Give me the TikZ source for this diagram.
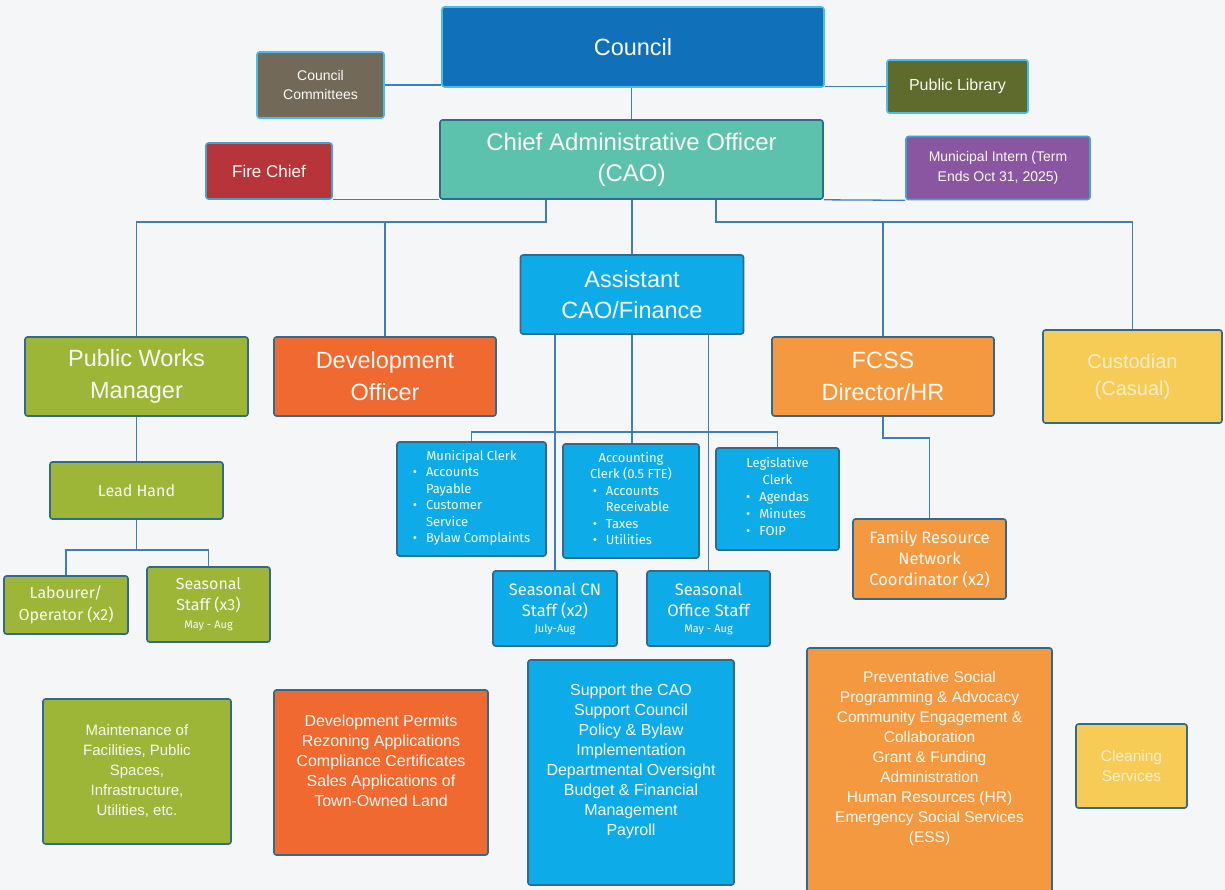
\documentclass[tikz,border=0pt]{standalone}
\usepackage{fontspec}
\setmainfont{Liberation Sans}
\newfontfamily\firafont{Fira Sans}
\usetikzlibrary{backgrounds}

\definecolor{bgcol}{HTML}{F5F6F7}
\definecolor{wirecol}{HTML}{3F7EBD}
\definecolor{edgedark}{HTML}{33688F}
\definecolor{edgelight}{HTML}{48BDE8}
\definecolor{boxtext}{HTML}{FAFAF4}
\definecolor{paletext}{HTML}{FBEFC8}
\definecolor{councilcol}{HTML}{1170BA}
\definecolor{committeecol}{HTML}{726959}
\definecolor{librarycol}{HTML}{5E6B2D}
\definecolor{caocol}{HTML}{5CC2AE}
\definecolor{firecol}{HTML}{B7343B}
\definecolor{interncol}{HTML}{8A56A1}
\definecolor{bluecol}{HTML}{0DACE9}
\definecolor{greencol}{HTML}{9DB637}
\definecolor{devcol}{HTML}{EF6930}
\definecolor{fcsscol}{HTML}{F4993F}
\definecolor{yellowcol}{HTML}{F6CC57}

\newcommand\fsz[2]{\fontsize{#1}{#2}\selectfont}
\newcommand\bul{\textbullet}

\tikzset{
  box/.style={rectangle, rounded corners=2.5pt, draw=edgedark, line width=1.6pt,
    text=boxtext, align=center, inner sep=2pt},
  wire/.style={draw=wirecol, line width=1.3pt},
  desc/.style={text=boxtext, align=center, font=\fsz{16}{20}},
}

\begin{document}
\begin{tikzpicture}[x=1pt,y=-1pt]
    \useasboundingbox (0,0) rectangle (1225,890);
    % council level
    \node[box, draw=edgelight, fill=councilcol, minimum width=382pt, minimum height=80pt, font=\fsz{23.5}{31}] (council) at (633,47) {Council};
    \node[box, draw=edgelight, fill=committeecol, minimum width=127pt, minimum height=66pt, font=\fsz{14}{18}] (committees) at (320.5,85) {Council\\Committees};
    \node[box, draw=edgelight, fill=librarycol, minimum width=141pt, minimum height=53pt, font=\fsz{16}{20}] (library) at (957.5,86.5) {Public Library};
    % CAO level
    \node[box, fill=caocol, minimum width=383pt, minimum height=79pt, font=\fsz{24}{31}] (cao) at (631.5,159.5) {Chief Administrative Officer\\(CAO)};
    \node[box, draw=edgelight!70!edgedark, fill=firecol, minimum width=126pt, minimum height=56pt, font=\fsz{17}{20}] (fire) at (269,171) {Fire Chief};
    \node[box, draw=edgelight!70!edgedark, fill=interncol, minimum width=184pt, minimum height=63pt, font=\fsz{14}{20}] (intern) at (998,168) {Municipal Intern (Term\\Ends Oct 31, 2025)};
    % managers
    \node[box, fill=bluecol, minimum width=223pt, minimum height=79pt, font=\fsz{23.5}{31}] (acao) at (632,294.5) {Assistant\\CAO/Finance};
    \node[box, fill=greencol, minimum width=223pt, minimum height=79pt, font=\fsz{23.5}{32}] (pwm) at (136.5,376.5) {Public Works\\Manager};
    \node[box, fill=devcol, minimum width=222pt, minimum height=79pt, font=\fsz{23.5}{32}] (devo) at (385,376.5) {Development\\Officer};
    \node[box, fill=fcsscol, minimum width=222pt, minimum height=79pt, font=\fsz{23.5}{32}] (fcss) at (883,376.5) {FCSS\\Director/HR};
    \node[box, fill=yellowcol, text=paletext, minimum width=179pt, minimum height=93pt, font=\fsz{20}{27}] (cust) at (1132.5,376.5) {Custodian\\(Casual)};
    % public works staff
    \node[box, fill=greencol, minimum width=173pt, minimum height=57pt, font=\firafont\fsz{16}{21}] (lead) at (136.5,490.5) {Lead Hand};
    \node[box, fill=greencol, minimum width=124pt, minimum height=58pt, font=\firafont\fsz{16}{22}] (labour) at (66,605) {Labourer/\\Operator (x2)};
    \node[box, fill=greencol, minimum width=123pt, minimum height=75pt, font=\firafont\fsz{16}{21}] (seasonal) at (208.5,604.5) {Seasonal\\Staff (x3)\\[-3pt]{\fsz{11}{13}May - Aug}};
    % finance staff
    \node[box, fill=bluecol, minimum width=149pt, minimum height=114pt, font=\firafont\fsz{13}{16.5}] (mclerk) at (471.5,499) {Municipal Clerk\\
      \begin{tabular}[t]{@{}c@{\hspace{9pt}}l@{}}\bul & Accounts\\ & Payable\\ \bul & Customer\\ & Service\\ \bul & Bylaw Complaints\end{tabular}};
    \node[box, fill=bluecol, minimum width=136pt, minimum height=114pt, font=\firafont\fsz{13}{16.5}] (aclerk) at (631,501) {Accounting\\Clerk (0.5 FTE)\\
      \begin{tabular}[t]{@{}c@{\hspace{9pt}}l@{}}\bul & Accounts\\ & Receivable\\ \bul & Taxes\\ \bul & Utilities\end{tabular}\hspace{20pt}};
    \node[box, fill=bluecol, minimum width=123pt, minimum height=102pt, font=\firafont\fsz{13}{17}] (lclerk) at (777.5,499) {Legislative\\Clerk\\
      \begin{tabular}[t]{@{}c@{\hspace{9pt}}l@{}}\bul & Agendas\\ \bul & Minutes\\ \bul & FOIP\end{tabular}\hspace{22pt}};
    \node[box, fill=bluecol, minimum width=124pt, minimum height=75pt, font=\firafont\fsz{16.5}{21}] (scn) at (555,608.5) {Seasonal CN\\Staff (x2)\\[-5pt]{\fsz{11}{13}July-Aug}};
    \node[box, fill=bluecol, minimum width=123pt, minimum height=75pt, font=\firafont\fsz{16.5}{21}] (soffice) at (708.5,608.5) {Seasonal\\Office Staff\\[-5pt]{\fsz{11}{13}May - Aug}};
    % fcss staff
    \node[box, fill=fcsscol, minimum width=153pt, minimum height=80pt, font=\firafont\fsz{16.5}{21}] (frn) at (929.5,559) {Family Resource\\Network\\Coordinator (x2)};
    % duties
    \node[box, fill=greencol, minimum width=188pt, minimum height=145pt, font=\fsz{15}{20}] (maint) at (137,771.5) {Maintenance of\\Facilities, Public\\Spaces,\\Infrastructure,\\Utilities, etc.};
    \node[box, fill=devcol, minimum width=214pt, minimum height=165pt,
      label={[desc, yshift=11.5pt]center:{Development Permits\\Rezoning Applications\\Compliance Certificates\\Sales Applications of\\Town-Owned Land}}] (permits) at (381,772.5) {};
    \node[box, fill=bluecol, minimum width=206pt, minimum height=225pt,
      label={[desc, yshift=11pt]center:{Support the CAO\\Support Council\\Policy \& Bylaw\\Implementation\\Departmental Oversight\\Budget \& Financial\\Management\\Payroll}}] (duties) at (631,772.5) {};
    \node[box, fill=fcsscol, minimum width=245pt, minimum height=250pt,
      label={[desc, font=\fsz{15.5}{20}, yshift=15pt]center:{Preventative Social\\Programming \& Advocacy\\Community Engagement \&\\Collaboration\\Grant \& Funding\\Administration\\Human Resources (HR)\\Emergency Social Services\\(ESS)}}] (social) at (929.5,773) {};
    \node[box, fill=yellowcol, text=paletext, minimum width=111pt, minimum height=84pt, font=\fsz{15.5}{20}] (cleaning) at (1131.5,766) {Cleaning\\Services};

    \begin{scope}[on background layer]
        \fill[bgcol] (0,0) rectangle (1225,890);
        % council links
        \draw[wire] (committees.east) -- (committees.east -| council.west);
        \draw[wire] (library.west -| council.east) -- (library.west);
        \draw[wire] (cao.north) -- (cao.north |- council.south);
        \draw[wire] (fire.south east) -- (cao.south west);
        \draw[wire] (cao.south east) -- (intern.south west);
        % cao buses
        \coordinate (westbus) at (546,222);
        \coordinate (eastbus) at (716,222);
        \draw[wire] (cao.south -| westbus) -- (westbus) -| (pwm.north);
        \draw[wire] (devo.north) -- (devo.north |- westbus);
        \draw[wire] (cao.south -| eastbus) -- (eastbus) -| (cust.north);
        \draw[wire] (fcss.north) -- (fcss.north |- eastbus);
        \draw[wire] (acao.north) -- (acao.north |- cao.south);
        % public works
        \coordinate (leadbus) at (136.5,550);
        \draw[wire] (pwm.south) -- (lead.north);
        \draw[wire] (lead.south) -- (leadbus);
        \draw[wire] (labour.north) |- (leadbus) -| (seasonal.north);
        % finance
        \coordinate (clerkbus) at (632,432);
        \draw[wire] (clerkbus |- acao.south) -- (clerkbus);
        \draw[wire] (mclerk.north) |- (clerkbus) -| (lclerk.north);
        \draw[wire] (clerkbus) -- (clerkbus |- aclerk.north);
        \draw[wire] (scn.north) -- (scn.north |- acao.south);
        \draw[wire] (soffice.north) -- (soffice.north |- acao.south);
        % fcss
        \coordinate (fcssbend) at (883,438);
        \draw[wire] (fcss.south) -- (fcssbend) -| (frn.north);
    \end{scope}
\end{tikzpicture}
\end{document}
